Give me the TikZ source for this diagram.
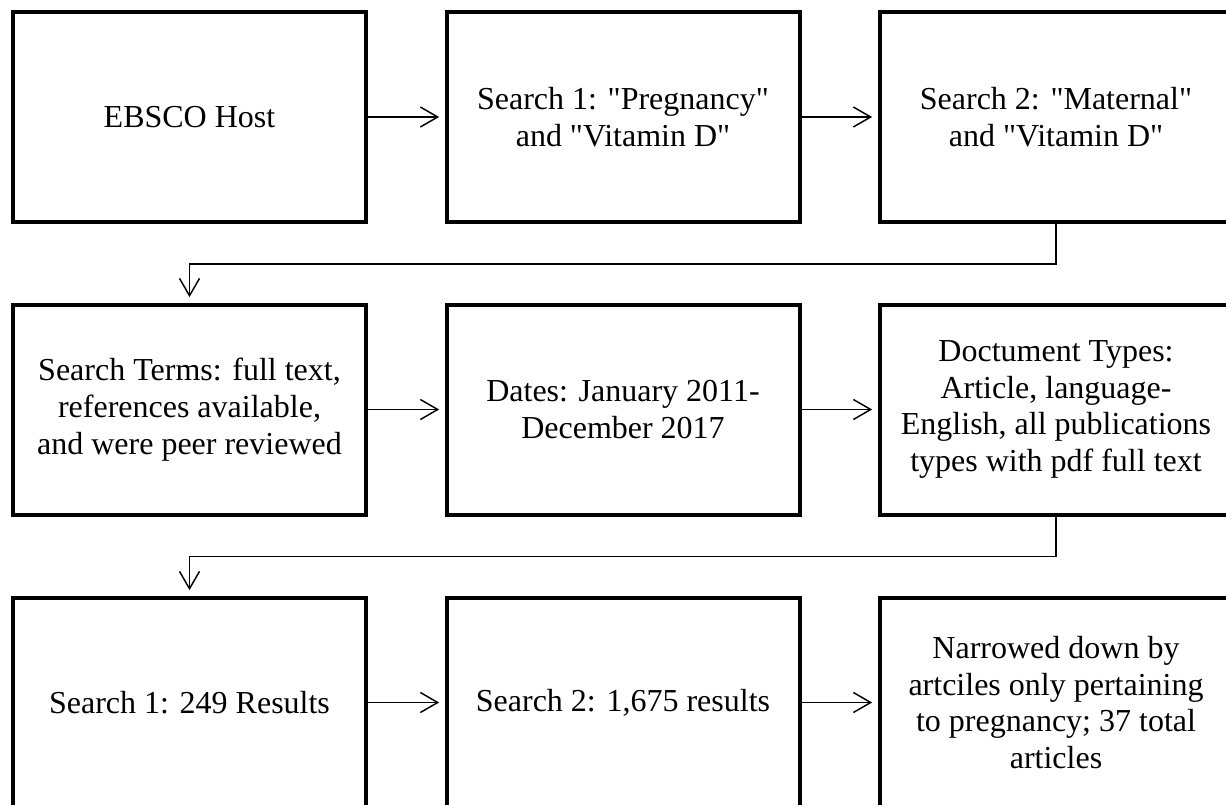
\documentclass[tikz,border=0pt]{standalone}
\usepackage{fontspec}
\setmainfont{Liberation Serif}
\usepackage{tikz}
\usetikzlibrary{arrows.meta}
\tikzset{>={Straight Barb[length=13pt,width=15pt]}}
\newcommand{\dq}[1]{\textquotedbl#1\textquotedbl}

\begin{document}
\begin{tikzpicture}[x=.75pt,y=-.75pt]
    \tikzstyle{stage}=[draw,line width=3pt,minimum width=264.75pt,minimum height=157.5pt,inner sep=0pt,align=center,font=\fontsize{24}{27.5}\selectfont];
    \tikzstyle{link}=[line width=1.1pt,->,shorten >=4pt];
    \useasboundingbox (0,0) rectangle (1226,805);
    \node[stage] (ebsco) at (189.5,117) {EBSCO Host};
    \node[stage] (query1) at (623,117) {Search 1: \dq{Pregnancy}\\and \dq{Vitamin D}};
    \node[stage] (query2) at (1056,117) {Search 2: \dq{Maternal}\\and \dq{Vitamin D}};
    \node[stage] (terms) at (189.5,409.5) {Search Terms: full text,\\references available,\\and were peer reviewed};
    \node[stage] (dates) at (623,409.5) {Dates: January 2011-\\December 2017};
    \node[stage] (types) at (1056,409.5) {Doctument Types:\\Article, language-\\English, all publications\\types with pdf full text};
    \node[stage] (res1) at (189.5,702.5) {Search 1: 249 Results};
    \node[stage] (res2) at (623,702.5) {Search 2: 1,675 results};
    \node[stage] (final) at (1056,702.5) {Narrowed down by\\artciles only pertaining\\to pregnancy; 37 total\\articles};
    \draw[link] (ebsco) -- (query1);
    \draw[link] (query1) -- (query2);
    \draw[link] (query2.south) -- ++(0,40) -| (terms.north);
    \draw[link] (terms) -- (dates);
    \draw[link] (dates) -- (types);
    \draw[link] (types.south) -- ++(0,40) -| (res1.north);
    \draw[link] (res1) -- (res2);
    \draw[link] (res2) -- (final);
  \end{tikzpicture}
\end{document}
